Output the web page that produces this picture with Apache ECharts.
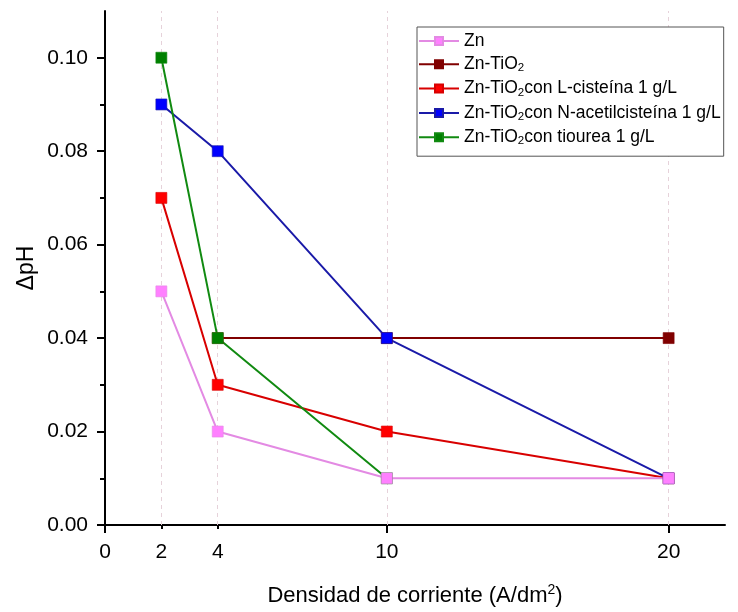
<!DOCTYPE html>
<html>
<head>
<meta charset="utf-8">
<script src="https://cdn.jsdelivr.net/npm/echarts@6/dist/echarts.min.js"></script>
<style>html,body{margin:0;padding:0;background:#fff}#c{width:738px;height:612px}</style>
</head>
<body>
<div id="c"></div>
<script>
// ---- data ----
var seriesNames = [
  'Zn',
  'Zn-TiO2',
  'Zn-TiO2con L-cisteína 1 g/L',
  'Zn-TiO2con N-acetilcisteína 1 g/L',
  'Zn-TiO2con tiourea 1 g/L'
];
var xZn = [2, 4, 10, 20];
var yZn = [0.05, 0.02, 0.01, 0.01];
var xTiO2 = [4, 10, 20];
var yTiO2 = [0.04, 0.04, 0.04];
var xCis = [2, 4, 10, 20];
var yCis = [0.07, 0.03, 0.02, 0.01];
var xNac = [2, 4, 10, 20];
var yNac = [0.09, 0.08, 0.04, 0.01];
var xTio = [2, 4, 10];
var yTio = [0.10, 0.04, 0.01];
var xTickLabels = [0, 2, 4, 10, 20];
var xMajorTicks = [0, 10, 20];
var xMinorTicks = [2, 4];
var xGuides = [2, 4, 10, 20];
var yTickLabels = [0, 0.02, 0.04, 0.06, 0.08, 0.10];
var yMinorTicks = [0.01, 0.03, 0.05, 0.07, 0.09];

function pairs(xs, ys) { return xs.map(function (x, i) { return [x, ys[i]]; }); }

var FONT = 'Liberation Sans, Arial, sans-serif';
var chart = echarts.init(document.getElementById('c'), null, { renderer: 'canvas' });

function mk(name, xs, ys, mColor, lColor, extra) {
  var s = {
    name: name, type: 'line', data: pairs(xs, ys),
    symbol: 'rect', symbolSize: 11,
    itemStyle: { color: mColor, borderColor: lColor, borderWidth: 0.6 },
    lineStyle: { color: lColor, width: 2 },
    emphasis: { disabled: true },
    animation: false
  };
  if (extra) Object.assign(s, extra);
  return s;
}

var option = {
  backgroundColor: '#fff',
  animation: false,
  grid: { left: 105, right: 13, top: 11, bottom: 87, outerBoundsMode: 'none', containLabel: false },
  legend: {
    data: seriesNames,
    orient: 'vertical',
    left: 417, top: 27,
    padding: [5, 3, 9, 1],
    itemGap: 5.3,
    itemWidth: 40, itemHeight: 10,
    itemTextGap: 6,
    borderColor: '#555', borderWidth: 1,
    backgroundColor: '#fff',
    textStyle: {
      fontFamily: FONT, fontSize: 17.5, color: '#000',
      rich: {
        a: { fontFamily: FONT, fontSize: 17.5, lineHeight: 20, color: '#000' },
        s: { fontFamily: FONT, fontSize: 11.5, lineHeight: 11, verticalAlign: 'bottom', color: '#000' }
      }
    },
    formatter: function (n) {
      var i = n.indexOf('TiO2');
      if (i < 0) return '{a|' + n + '}';
      var rest = n.slice(i + 4);
      return '{a|' + n.slice(0, i + 3) + '}{s|2}' + (rest ? '{a|' + rest + '}' : '');
    }
  },
  xAxis: [{
    type: 'value', min: 0, max: 22,
    name: '{a|Densidad de corriente (A/dm}{s|2}{a|)}',
    nameLocation: 'middle', nameGap: 58,
    nameTextStyle: {
      fontFamily: FONT, fontSize: 22, color: '#000',
      rich: {
        a: { fontFamily: FONT, fontSize: 22, lineHeight: 26, color: '#000' },
        s: { fontFamily: FONT, fontSize: 14, lineHeight: 14, verticalAlign: 'top', color: '#000' }
      }
    },
    axisLine: { show: true, onZero: false, lineStyle: { color: '#000', width: 2 } },
    axisTick: { show: true, customValues: xMajorTicks, length: 8, inside: false, lineStyle: { color: '#000', width: 2 } },
    axisLabel: { customValues: xTickLabels, fontFamily: FONT, fontSize: 21, color: '#000', margin: 17 },
    splitLine: { show: false }
  }, {
    type: 'value', min: 0, max: 22, position: 'bottom',
    axisLine: { show: false },
    axisTick: { show: true, customValues: xMinorTicks, length: 4, inside: false, lineStyle: { color: '#000', width: 2 } },
    axisLabel: { show: false },
    splitLine: { show: false }
  }],
  yAxis: [{
    type: 'value', min: 0, max: 0.11,
    name: 'ΔpH', nameLocation: 'middle', nameGap: 67, nameMoveOverlap: false,
    nameTextStyle: { fontFamily: FONT, fontSize: 23, color: '#000' },
    axisLine: { show: true, onZero: false, lineStyle: { color: '#000', width: 2 } },
    axisTick: { show: true, customValues: yTickLabels, length: 8, inside: false, lineStyle: { color: '#000', width: 2 } },
    axisLabel: {
      customValues: yTickLabels, fontFamily: FONT, fontSize: 21, color: '#000', margin: 17,
      formatter: function (v) { return v.toFixed(2); }
    },
    splitLine: { show: false }
  }, {
    type: 'value', min: 0, max: 0.11, position: 'left',
    axisLine: { show: false },
    axisTick: { show: true, customValues: yMinorTicks, length: 5, inside: false, lineStyle: { color: '#000', width: 2 } },
    axisLabel: { show: false },
    splitLine: { show: false }
  }],
  series: [
    mk(seriesNames[1], xTiO2, yTiO2, '#800000', '#800000', {
      markLine: {
        silent: true, symbol: 'none', label: { show: false }, z: 1,
        lineStyle: { color: '#e6d2da', type: [4, 4], width: 1 },
        emphasis: { disabled: true },
        data: xGuides.map(function (v) { return { xAxis: v }; }),
        animation: false
      }
    }),
    mk(seriesNames[2], xCis, yCis, '#ff0000', '#d80000'),
    mk(seriesNames[3], xNac, yNac, '#0000ff', '#1a1aa8'),
    mk(seriesNames[4], xTio, yTio, '#008000', '#118a11'),
    mk(seriesNames[0], xZn, yZn, '#ff80ff', '#e38ae3')
  ]
};
chart.setOption(option);
</script>
</body>
</html>
